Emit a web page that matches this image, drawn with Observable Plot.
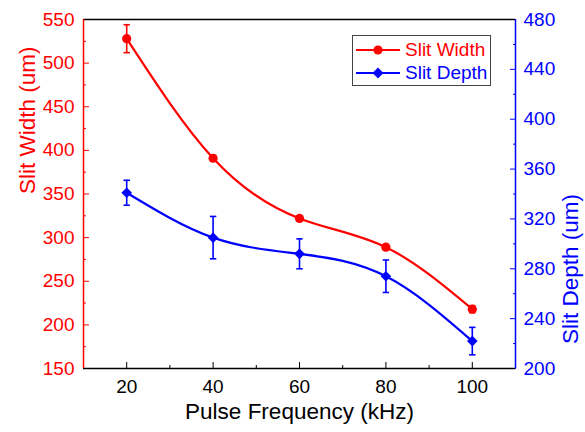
<!DOCTYPE html>
<html>
<head>
<meta charset="utf-8">
<script src="https://cdn.jsdelivr.net/npm/d3@7"></script>
<script src="https://cdn.jsdelivr.net/npm/@observablehq/plot@0.6"></script>
<style>
  html, body { margin: 0; padding: 0; background: #fff; }
  #wrap { position: relative; width: 585px; height: 432px; font-family: "Liberation Sans", Arial, sans-serif; }
  #legend { position: absolute; left: 352px; top: 35px; width: 139px; height: 51px; border: 1px solid #444; background: #fff; box-sizing: border-box; }
  .lrow { position: absolute; left: 0; height: 22px; width: 139px; }
  .lrow svg { position: absolute; left: 2px; top: 0; }
  .lrow span { position: absolute; left: 52px; top: 0px; font-size: 19px; line-height: 22px; white-space: nowrap; }
</style>
</head>
<body>
<div id="wrap">
  <div id="chart"></div>
  <div id="legend"></div>
</div>
<script>
// ---- data ----
const freq = [20, 40, 60, 80, 100];
const widthUm = [528, 391, 322, 289, 218];
const widthErr = [16, 3, 3, 3, 4];
const depthUm = [341, 305, 292, 274, 222];
const depthErr = [10, 17, 12, 13, 11];

const xTicks = [20, 40, 60, 80, 100];
const xMinor = [30, 50, 70, 90];
const leftTicks = [150, 200, 250, 300, 350, 400, 450, 500, 550];
const leftMinor = [175, 225, 275, 325, 375, 425, 475, 525];
const rightTicks = [200, 240, 280, 320, 360, 400, 440, 480];
const rightMinor = [220, 260, 300, 340, 380, 420, 460];

const seriesNames = ["Slit Width", "Slit Depth"];
const xTitle = "Pulse Frequency (kHz)";
const leftTitle = "Slit Width (um)";
const rightTitle = "Slit Depth (um)";

const RED = "#ff0000", BLUE = "#0000ff";
const leftDomain = [150, 550], rightDomain = [200, 480];
const toLeft = v => leftDomain[0] + (v - rightDomain[0]) * (leftDomain[1] - leftDomain[0]) / (rightDomain[1] - rightDomain[0]);
const toRight = v => rightDomain[0] + (v - leftDomain[0]) * (rightDomain[1] - rightDomain[0]) / (leftDomain[1] - leftDomain[0]);

const widthData = freq.map((f, i) => ({x: f, y: widthUm[i], lo: widthUm[i] - widthErr[i], hi: widthUm[i] + widthErr[i]}));
const depthData = freq.map((f, i) => ({x: f, y: toLeft(depthUm[i]), lo: toLeft(depthUm[i] - depthErr[i]), hi: toLeft(depthUm[i] + depthErr[i])}));

const capSymbol = {draw(ctx, size) { const r = Math.sqrt(size / Math.PI); ctx.moveTo(-r, 0); ctx.lineTo(r, 0); }};
const FS = 19;

const chart = Plot.plot({
  width: 585,
  height: 432,
  marginLeft: 83,
  marginRight: 70,
  marginTop: 19,
  marginBottom: 64,
  style: {fontFamily: "'Liberation Sans', Arial, sans-serif", fontSize: FS + "px", background: "#fff"},
  x: {domain: [10, 110], label: null},
  y: {domain: leftDomain, label: null},
  marks: [
    // axes (inward ticks)
    Plot.axisX({ticks: xTicks, tickSize: -6, tickPadding: 17, fontSize: FS, color: "#000", label: null}),
    Plot.axisX({ticks: xMinor, tickSize: -3, tickFormat: () => "", color: "#000", label: null}),
    Plot.axisY({ticks: leftTicks, tickSize: -6, tickPadding: 15, fontSize: FS, color: RED, label: null}),
    Plot.axisY({ticks: leftMinor, tickSize: -3, tickFormat: () => "", color: RED, label: null}),
    Plot.axisY({anchor: "right", ticks: rightTicks.map(toLeft), tickSize: -6, tickPadding: 14, fontSize: FS, color: BLUE, label: null,
      tickFormat: d => String(Math.round(toRight(d)))}),
    Plot.axisY({anchor: "right", ticks: rightMinor.map(toLeft), tickSize: -3, tickFormat: () => "", color: BLUE, label: null}),
    // frame lines
    Plot.ruleY([leftDomain[0]], {stroke: "#000", strokeWidth: 1.5}),
    Plot.ruleY([leftDomain[1]], {stroke: "#000", strokeWidth: 1.5}),
    Plot.ruleX([10], {stroke: RED, strokeWidth: 1.5}),
    Plot.ruleX([110], {stroke: BLUE, strokeWidth: 1.5}),
    // titles
    Plot.text([xTitle], {text: d => d, frameAnchor: "bottom", dy: 50, fontSize: 22.5, fill: "#000"}),
    Plot.text([leftTitle], {text: d => d, frameAnchor: "left", dx: -56, rotate: -90, fontSize: 22.5, fill: RED}),
    Plot.text([rightTitle], {text: d => d, frameAnchor: "right", dx: 55, rotate: -90, fontSize: 22.5, fill: BLUE}),
    // lines
    Plot.line(widthData, {x: "x", y: "y", curve: "natural", stroke: RED, strokeWidth: 2.2}),
    Plot.line(depthData, {x: "x", y: "y", curve: "natural", stroke: BLUE, strokeWidth: 2.2}),
    // error bars
    Plot.ruleX(widthData, {x: "x", y1: "lo", y2: "hi", stroke: RED, strokeWidth: 1.6}),
    Plot.dot(widthData, {x: "x", y: "lo", symbol: capSymbol, r: 3.2, stroke: RED, strokeWidth: 1.6, fill: "none"}),
    Plot.dot(widthData, {x: "x", y: "hi", symbol: capSymbol, r: 3.2, stroke: RED, strokeWidth: 1.6, fill: "none"}),
    Plot.ruleX(depthData, {x: "x", y1: "lo", y2: "hi", stroke: BLUE, strokeWidth: 1.6}),
    Plot.dot(depthData, {x: "x", y: "lo", symbol: capSymbol, r: 3.2, stroke: BLUE, strokeWidth: 1.6, fill: "none"}),
    Plot.dot(depthData, {x: "x", y: "hi", symbol: capSymbol, r: 3.2, stroke: BLUE, strokeWidth: 1.6, fill: "none"}),
    // markers
    Plot.dot(widthData, {x: "x", y: "y", r: 4.6, fill: RED, stroke: "none"}),
    Plot.dot(depthData, {x: "x", y: "y", symbol: "diamond2", r: 4.8, fill: BLUE, stroke: "none"})
  ]
});
document.getElementById("chart").appendChild(chart);

// legend
const legend = document.getElementById("legend");
const legendItems = [
  {name: seriesNames[0], color: RED, shape: "circle", top: 3},
  {name: seriesNames[1], color: BLUE, shape: "diamond", top: 26}
];
for (const it of legendItems) {
  const row = document.createElement("div");
  row.className = "lrow";
  row.style.top = it.top + "px";
  const marker = it.shape === "circle"
    ? `<circle cx="23" cy="11" r="4.6" fill="${it.color}"/>`
    : `<path d="M23,5.5 L28.5,11 L23,16.5 L17.5,11 Z" fill="${it.color}"/>`;
  row.innerHTML = `<svg width="46" height="22"><line x1="1" y1="11" x2="45" y2="11" stroke="${it.color}" stroke-width="2.2"/>${marker}</svg><span style="color:${it.color}">${it.name}</span>`;
  legend.appendChild(row);
}
</script>
</body>
</html>
